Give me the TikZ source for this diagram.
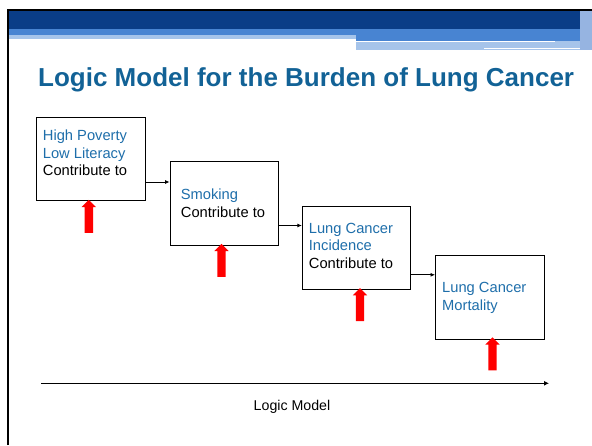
\documentclass[tikz,border=0pt]{standalone}
\usepackage{fontspec}
\setmainfont{Liberation Sans}
\usetikzlibrary{arrows.meta, shapes.arrows, positioning, calc}

\definecolor{hdrdark}{RGB}{10,61,135}
\definecolor{hdrmid}{RGB}{72,132,210}
\definecolor{hdrlight}{RGB}{166,196,234}
\definecolor{hdrpat}{RGB}{150,180,225}
\definecolor{titleblue}{RGB}{18,98,150}
\definecolor{boxblue}{RGB}{30,110,170}

\begin{document}
\begin{tikzpicture}[x=1pt,y=-1pt,
        stagebox/.style={draw,line width=0.8pt,minimum width=108.5pt,minimum height=83.5pt,inner sep=0pt},
        stagetext/.style={anchor=west,inner sep=0pt,align=left,font=\fontsize{14.7}{17.6}\selectfont},
        link/.style={line width=0.8pt,-{Latex[length=4.5pt,width=4pt]}},
        redup/.style={single arrow,fill=red,draw=none,inner xsep=0pt,inner ysep=4pt,rotate=90,
            text height=0pt,text depth=0pt,minimum height=33pt,
            single arrow head extend=3pt,single arrow tip angle=90}]

            \useasboundingbox (0,0) rectangle (592,445);

            % header bars
            \fill[hdrdark] (8,10) rectangle (592,29);
            \fill[hdrmid] (8,29) rectangle (592,35);
            \fill[hdrlight] (8,35) rectangle (356,39);
            \fill[hdrmid] (356,35) rectangle (592,40.5);
            \fill[hdrlight] (356,40.5) rectangle (592,50);
            \fill[white] (356,40.7) rectangle (555,42.3);
            \fill[white] (484,47.7) rectangle (587,49.3);
            \fill[hdrpat] (580,11) rectangle (592,50);
            \draw[line width=2.2pt] (7.8,445) -- (7.8,10) -- (592,10);

            \node[anchor=base west,inner sep=0pt,text=titleblue,font=\fontsize{26}{31}\selectfont\bfseries] (title) at (38,86.7) {Logic Model for the Burden of Lung Cancer};

            % the four stages
            \node[stagebox] (S1) at (91,159) {};
            \node[stagebox] (S2) at (224.2,203.5) {};
            \node[stagebox] (S3) at (356.5,247.8) {};
            \node[stagebox] (S4) at (489.7,297.2) {};

            \node[stagetext] (T1) at (42.7,153) {\textcolor{boxblue}{High Poverty}\\\textcolor{boxblue}{Low Literacy}\\Contribute to};
            \node[stagetext] (T2) at (180.7,203.2) {\textcolor{boxblue}{Smoking}\\Contribute to};
            \node[stagetext] (T3) at (308.7,245.9) {\textcolor{boxblue}{Lung Cancer}\\\textcolor{boxblue}{Incidence}\\Contribute to};
            \node[stagetext] (T4) at (442,298) {\textcolor{boxblue}{Lung Cancer}\\\textcolor{boxblue}{Mortality}};

            \coordinate (a1) at ([yshift=-23pt]S1.east);
            \coordinate (a2) at ([yshift=-22pt]S2.east);
            \coordinate (a3) at ([yshift=-27pt]S3.east);
            \draw[link] (a1) -- (a1 -| S2.west);
            \draw[link] (a2) -- (a2 -| S3.west);
            \draw[link] (a3) -- (a3 -| S4.west);

            % red pointers
            \node[redup] (R1) at (88.8,218.5) {};
            \node[redup] (R2) at (221.5,262.5) {};
            \node[redup] (R3) at (360,306.8) {};
            \node[redup] (R4) at (492.5,356) {};

            % bottom axis
            \coordinate (axisstart) at (41,383.3);
            \coordinate (axisend) at (549,383.3);
            \draw[line width=1.1pt,-{Latex[length=5pt,width=5pt]}] (axisstart) -- (axisend);
            \node[anchor=base,inner sep=0pt,font=\fontsize{14.2}{17}\selectfont] (axislabel) at (292,410.5) {Logic Model};

        \end{tikzpicture}
\end{document}
